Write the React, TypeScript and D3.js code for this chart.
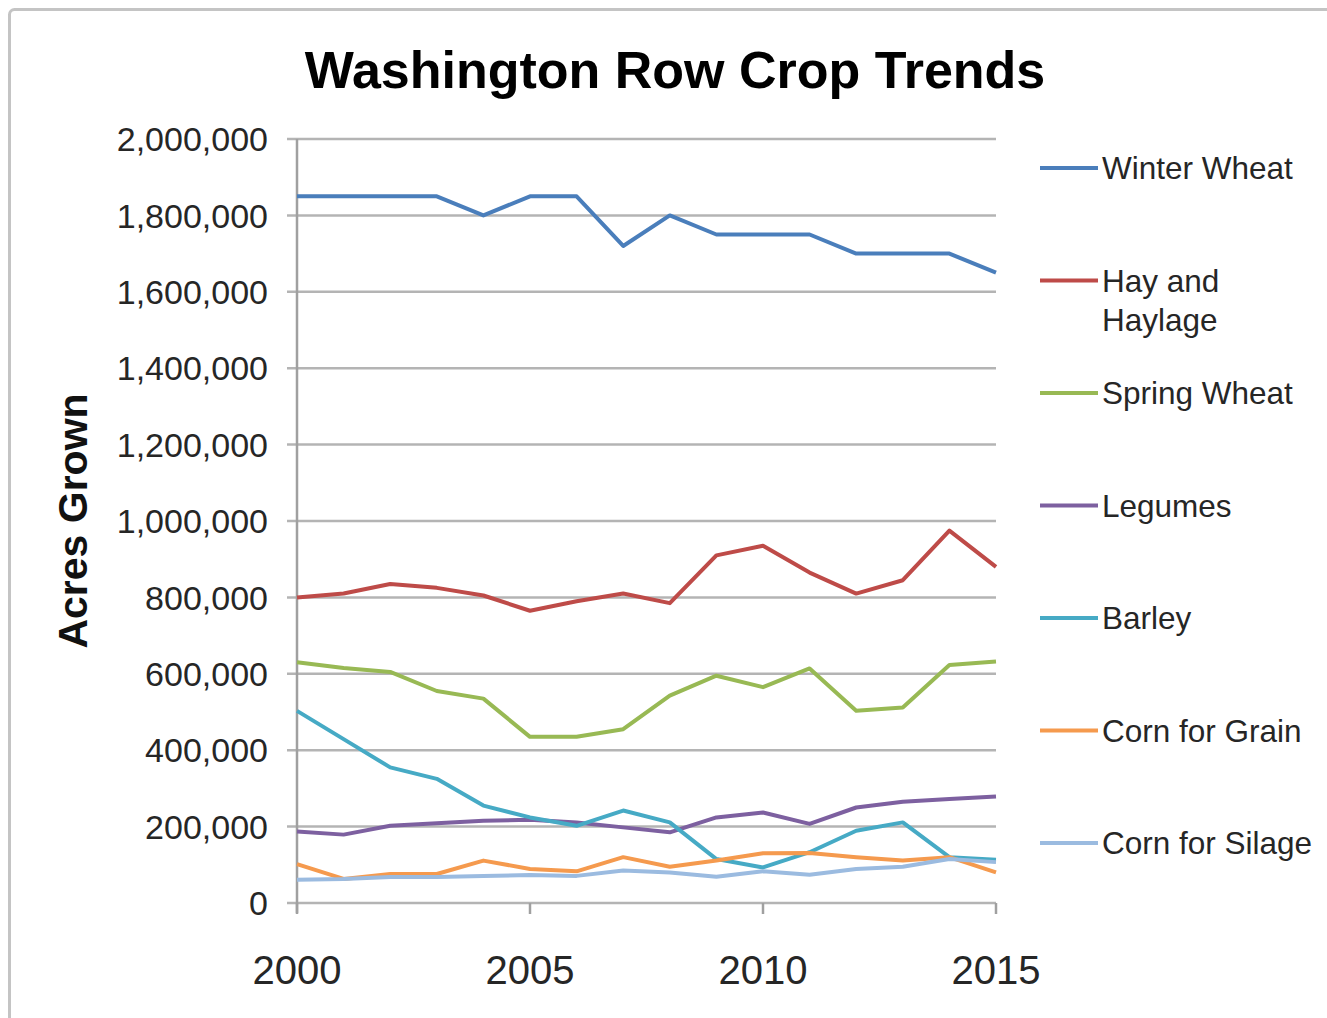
import React from "react";
import * as d3 from "d3";

const years = [2000, 2001, 2002, 2003, 2004, 2005, 2006, 2007, 2008, 2009, 2010, 2011, 2012, 2013, 2014, 2015];

const winterWheat = [1850000, 1850000, 1850000, 1850000, 1800000, 1850000, 1850000, 1720000, 1800000, 1750000, 1750000, 1750000, 1700000, 1700000, 1700000, 1650000];
const hayAndHaylage = [800000, 810000, 835000, 825000, 805000, 765000, 790000, 810000, 785000, 910000, 935000, 865000, 810000, 845000, 975000, 880000];
const springWheat = [630000, 615000, 605000, 555000, 535000, 435000, 435000, 455000, 543000, 595000, 565000, 614000, 503000, 512000, 623000, 632000];
const legumes = [187000, 179000, 202000, 209000, 215000, 218000, 211000, 198000, 185000, 224000, 237000, 207000, 250000, 265000, 272000, 279000];
const barley = [503000, 429000, 355000, 325000, 255000, 224000, 202000, 242000, 211000, 115000, 93000, 133000, 189000, 211000, 120000, 113000];
const cornForGrain = [102000, 63000, 76000, 76000, 111000, 89000, 83000, 120000, 95000, 111000, 130000, 131000, 120000, 111000, 120000, 80000];
const cornForSilage = [61000, 63000, 68000, 68000, 71000, 73000, 71000, 85000, 80000, 69000, 83000, 74000, 89000, 95000, 115000, 107000];

const seriesNames = ["Winter Wheat", "Hay and Haylage", "Spring Wheat", "Legumes", "Barley", "Corn for Grain", "Corn for Silage"];
const seriesValues = [winterWheat, hayAndHaylage, springWheat, legumes, barley, cornForGrain, cornForSilage];
const seriesColors = ["#4a7ebb", "#be4b48", "#98b954", "#7d60a0", "#46aac5", "#f59a4e", "#9bbbe0"];
const legendLines = [["Winter Wheat"], ["Hay and", "Haylage"], ["Spring Wheat"], ["Legumes"], ["Barley"], ["Corn for Grain"], ["Corn for Silage"]];

const yTicks = [0, 200000, 400000, 600000, 800000, 1000000, 1200000, 1400000, 1600000, 1800000, 2000000];
const xTicks = [2000, 2005, 2010, 2015];

const FONT = "'Liberation Sans', Arial, Helvetica, sans-serif";

export default function App() {
  const width = 1327;
  const height = 1018;
  const x = d3.scaleLinear().domain([2000, 2015]).range([297, 996]);
  const y = d3.scaleLinear().domain([0, 2000000]).range([903, 139]);
  const fmt = d3.format(",");

  const line = d3
    .line<[number, number]>()
    .x((d) => x(d[0]))
    .y((d) => y(d[1]));

  const legendX0 = 1040;
  const legendX1 = 1098;
  const legendTop = 168;
  const legendStep = 112.5;

  return (
    <svg
      width={width}
      height={height}
      style={{ position: "absolute", left: 0, top: 0, background: "#fff" }}
      fontFamily={FONT}
    >
      <rect x={0} y={0} width={width} height={height} fill="#fff" />
      {/* outer chart frame */}
      <rect x={9.5} y={9.5} width={1400} height={1100} rx={5} fill="none" stroke="#c4c4c4" strokeWidth={3} />

      {/* title */}
      <text x={675} y={88} textAnchor="middle" fontSize={52} fontWeight="bold" fill="#000">
        Washington Row Crop Trends
      </text>

      {/* horizontal gridlines */}
      {yTicks.map((t) => (
        <line key={"g" + t} x1={287} x2={996} y1={y(t)} y2={y(t)} stroke="#b4b4b4" strokeWidth={2.5} />
      ))}

      {/* y axis */}
      <line x1={297} x2={297} y1={y(2000000)} y2={913} stroke="#a0a0a0" strokeWidth={2.5} />
      {/* x axis ticks */}
      {xTicks.map((t) => (
        <line key={"xt" + t} x1={x(t)} x2={x(t)} y1={y(0)} y2={914} stroke="#a0a0a0" strokeWidth={2.5} />
      ))}

      {/* y tick labels */}
      {yTicks.map((t) => (
        <text key={"yl" + t} x={268} y={y(t)} dy="0.36em" textAnchor="end" fontSize={34} fill="#262626">
          {fmt(t)}
        </text>
      ))}

      {/* x tick labels */}
      {xTicks.map((t) => (
        <text key={"xl" + t} x={x(t)} y={984} textAnchor="middle" fontSize={40} fill="#262626">
          {t}
        </text>
      ))}

      {/* y axis title */}
      <text
        transform="translate(87,521) rotate(-90)"
        textAnchor="middle"
        fontSize={41}
        fontWeight="bold"
        fill="#111"
      >
        Acres Grown
      </text>

      {/* series */}
      {seriesValues.map((vals, i) => (
        <path
          key={seriesNames[i]}
          d={line(years.map((yr, j) => [yr, vals[j]] as [number, number])) || ""}
          fill="none"
          stroke={seriesColors[i]}
          strokeWidth={4}
          strokeLinejoin="round"
        />
      ))}

      {/* legend */}
      {seriesNames.map((name, i) => {
        const cy = legendTop + i * legendStep;
        return (
          <g key={"lg" + name}>
            <line x1={legendX0} x2={legendX1} y1={cy} y2={cy} stroke={seriesColors[i]} strokeWidth={4} />
            {legendLines[i].map((ln, k) => (
              <text key={k} x={1102} y={cy + k * 39} dy="0.36em" fontSize={31.5} fill="#262626">
                {ln}
              </text>
            ))}
          </g>
        );
      })}
    </svg>
  );
}
